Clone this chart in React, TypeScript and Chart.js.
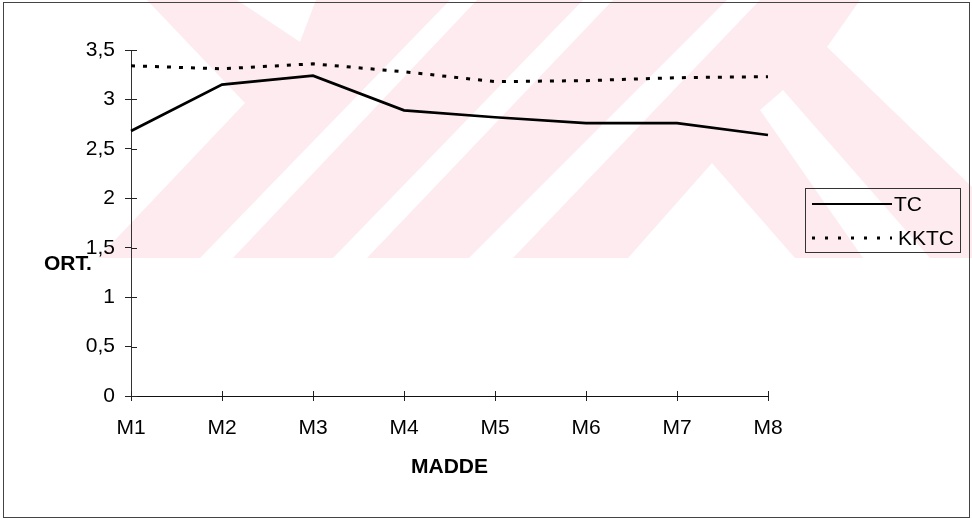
import React, { useEffect, useRef } from 'react';
import { Chart, registerables } from 'chart.js';

Chart.register(...registerables);

// ---- data ----
const categories = ['M1', 'M2', 'M3', 'M4', 'M5', 'M6', 'M7', 'M8'];
const tcValues = [2.68, 3.15, 3.24, 2.89, 2.82, 2.76, 2.76, 2.64];
const kktcValues = [3.34, 3.31, 3.36, 3.28, 3.18, 3.19, 3.22, 3.23];
const yTickLabels = ['0', '0,5', '1', '1,5', '2', '2,5', '3', '3,5'];
const seriesNames = ['TC', 'KKTC'];
const xAxisTitle = 'MADDE';
const yAxisTitle = 'ORT.';

// ---- styles ----
const FONT = "'Liberation Sans', Arial, sans-serif";
const PINK = 'rgb(253,235,239)';
const W = 972;
const H = 519;

// background watermark (scan decoration) – white cut-outs on a pink band
const watermarkWhite: number[][][] = [
  [[0, 0], [147, 0], [245, 103], [98, 258], [0, 258]],
  [[237, 0], [316, 0], [300, 42]],
  [[450, 0], [477, 0], [233, 258], [200, 258]],
  [[583, 0], [613, 0], [367, 258], [333, 258]],
  [[727, 0], [760, 0], [513, 258], [469, 258]],
  [[712, 163], [628, 258], [795, 258]],
  [[760, 110], [783, 90], [930, 258], [863, 258]],
  [[860, 0], [972, 0], [972, 187], [827, 47]],
];

const decorPlugin = {
  id: 'decor',
  beforeDraw(chart: any) {
    const ctx = chart.ctx;
    ctx.save();
    ctx.fillStyle = PINK;
    ctx.fillRect(0, 0, W, 258);
    ctx.fillStyle = '#ffffff';
    for (const poly of watermarkWhite) {
      ctx.beginPath();
      poly.forEach((p, i) => (i === 0 ? ctx.moveTo(p[0], p[1]) : ctx.lineTo(p[0], p[1])));
      ctx.closePath();
      ctx.fill();
    }
    ctx.strokeStyle = '#444';
    ctx.lineWidth = 1;
    ctx.strokeRect(3.5, 2.5, 966, 515);
    ctx.restore();
  },
  beforeDatasetsDraw(chart: any) {
    const ctx = chart.ctx;
    const xs = chart.scales.x;
    const ys = chart.scales.y;
    const area = chart.chartArea;
    ctx.save();
    ctx.strokeStyle = '#222';
    ctx.lineWidth = 1;
    ys.ticks.forEach((_t: any, i: number) => {
      const py = Math.round(ys.getPixelForTick(i)) + 0.5;
      ctx.beginPath();
      ctx.moveTo(area.left, py);
      ctx.lineTo(area.left + 6, py);
      ctx.stroke();
    });
    xs.ticks.forEach((_t: any, i: number) => {
      const px = Math.round(xs.getPixelForTick(i)) + 0.5;
      ctx.beginPath();
      ctx.moveTo(px, area.bottom - 5);
      ctx.lineTo(px, area.bottom);
      ctx.stroke();
    });
    ctx.restore();
  },
  afterDraw(chart: any) {
    const ctx = chart.ctx;
    ctx.save();
    ctx.fillStyle = '#000';
    ctx.textBaseline = 'middle';
    ctx.textAlign = 'left';
    ctx.font = `bold 21px ${FONT}`;
    ctx.fillText(yAxisTitle, 44, 264);
    ctx.fillText(xAxisTitle, 411, 467);

    // legend
    ctx.strokeStyle = '#333';
    ctx.lineWidth = 1;
    ctx.strokeRect(805.5, 188.5, 155, 64);
    const rows = [204, 238];
    chart.data.datasets.forEach((ds: any, i: number) => {
      const y = rows[i];
      ctx.save();
      ctx.strokeStyle = ds.borderColor;
      ctx.lineWidth = i === 0 ? 2 : 3;
      ctx.setLineDash(i === 0 ? [] : [3, 10]);
      ctx.beginPath();
      ctx.moveTo(812, y);
      ctx.lineTo(892, y);
      ctx.stroke();
      ctx.restore();
      ctx.font = `21px ${FONT}`;
      ctx.fillText(ds.label, i === 0 ? 894 : 898, y + 1);
    });
    ctx.restore();
  },
};

export default function App() {
  const ref = useRef<HTMLCanvasElement>(null);

  useEffect(() => {
    if (!ref.current) return;
    const chart = new Chart(ref.current, {
      type: 'line',
      data: {
        labels: categories,
        datasets: [
          {
            label: seriesNames[0],
            data: tcValues,
            borderColor: '#000',
            borderWidth: 2.7,
            pointRadius: 0,
            tension: 0,
            fill: false,
          },
          {
            label: seriesNames[1],
            data: kktcValues,
            borderColor: '#000',
            borderWidth: 3,
            borderDash: [4, 8],
            pointRadius: 0,
            tension: 0,
            fill: false,
          },
        ],
      },
      options: {
        responsive: false,
        animation: false,
        devicePixelRatio: 1,
        layout: { padding: { left: 0, top: 50, right: W - 768, bottom: 0 } },
        plugins: {
          legend: { display: false },
          tooltip: { enabled: false },
          title: { display: false },
        },
        scales: {
          x: {
            offset: false,
            grid: {
              display: true,
              drawOnChartArea: false,
              drawTicks: true,
              tickLength: 5,
              color: '#222',
            },
            border: { display: true, color: '#111', width: 1 },
            ticks: {
              color: '#000',
              font: { family: FONT, size: 21 },
              padding: 15,
              maxRotation: 0,
              autoSkip: false,
            },
            afterFit: (s: any) => {
              s.height = H - 396;
            },
          },
          y: {
            min: 0,
            max: 3.5,
            grid: {
              display: true,
              drawOnChartArea: false,
              drawTicks: true,
              tickLength: 6,
              color: '#222',
            },
            border: { display: true, color: '#333', width: 1 },
            ticks: {
              stepSize: 0.5,
              color: '#000',
              font: { family: FONT, size: 21 },
              padding: 10,
              callback: (_v: any, i: number) => yTickLabels[i],
            },
            afterFit: (s: any) => {
              s.width = 131;
            },
          },
        },
      },
      plugins: [decorPlugin],
    });
    return () => chart.destroy();
  }, []);

  return (
    <div style={{ position: 'absolute', left: 0, top: 0, width: W, height: H, background: '#fff' }}>
      <canvas ref={ref} width={W} height={H} style={{ display: 'block' }} />
    </div>
  );
}
